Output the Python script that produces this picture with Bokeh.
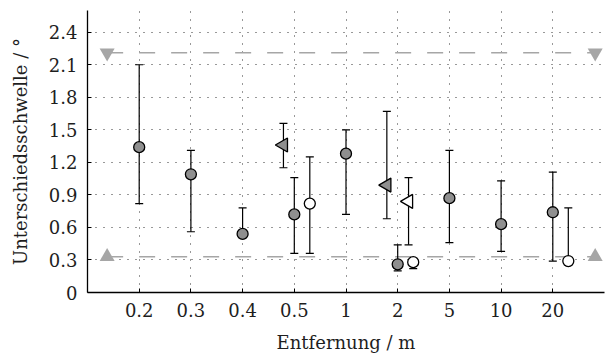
import math
from bokeh.plotting import figure
from bokeh.models import Range1d, FixedTicker, ColumnDataSource
from bokeh.embed import file_html
from bokeh.resources import INLINE

# ---- data ----
distances = ["0.2", "0.3", "0.4", "0.5", "1", "2", "5", "10", "20"]
y_ticks = [0, 0.3, 0.6, 0.9, 1.2, 1.5, 1.8, 2.1, 2.4]

# series A: grey circles (at category position)
a_cat = ["0.2", "0.3", "0.4", "0.5", "1", "2", "5", "10", "20"]
a_val = [1.34, 1.09, 0.54, 0.72, 1.28, 0.26, 0.87, 0.63, 0.74]
a_lo = [0.82, 0.56, 0.51, 0.36, 0.72, 0.20, 0.46, 0.38, 0.29]
a_hi = [2.10, 1.31, 0.78, 1.06, 1.50, 0.44, 1.31, 1.03, 1.11]

# series B: white circles (right of category)
b_cat = ["0.5", "2", "20"]
b_val = [0.82, 0.28, 0.29]
b_lo = [0.36, 0.22, 0.26]
b_hi = [1.25, 0.30, 0.78]

# series C: grey left triangles (left of category)
c_cat = ["0.5", "2"]
c_val = [1.36, 0.99]
c_lo = [1.15, 0.68]
c_hi = [1.56, 1.67]

# series D: white left triangles (right of category)
d_cat = ["2"]
d_val = [0.84]
d_lo = [0.44]
d_hi = [1.06]

# reference limits (dashed lines)
ref_upper = 2.21
ref_lower = 0.33

# ---- layout constants ----
OFF_B = 0.30
OFF_C = -0.21
OFF_D = 0.21
REF_X0 = -0.62
REF_X1 = 8.82
FONT = "DejaVu Serif"
GREY = "#8f8f8f"
REFGREY = "#a6a6a6"

idx = {c: i for i, c in enumerate(distances)}

p = figure(width=613, height=356, output_backend="svg", toolbar_location=None,
           x_range=Range1d(-1, 9), y_range=Range1d(0, 2.6),
           min_border_left=87, min_border_right=9, min_border_top=10, min_border_bottom=64)
p.outline_line_color = None
p.background_fill_color = "white"
p.border_fill_color = "white"

# axes
p.xaxis.ticker = FixedTicker(ticks=list(range(len(distances))))
p.xaxis.major_label_overrides = {i: c for i, c in enumerate(distances)}
p.yaxis.ticker = FixedTicker(ticks=y_ticks)
p.yaxis.major_label_overrides = {0: "0"}
for ax in (p.xaxis, p.yaxis):
    ax.axis_line_color = "black"
    ax.axis_line_width = 1.3
    ax.major_tick_in = 4
    ax.major_tick_out = 0
    ax.major_tick_line_color = "black"
    ax.minor_tick_line_color = None
    ax.major_label_text_font = FONT
    ax.major_label_text_font_size = "18px"
    ax.major_label_text_color = "#1e1e1e"
    ax.axis_label_text_font = FONT
    ax.axis_label_text_font_size = "18px"
    ax.axis_label_text_font_style = "normal"
    ax.axis_label_text_color = "#1e1e1e"
p.xaxis.axis_label = "Entfernung / m"
p.yaxis.axis_label = "Unterschiedsschwelle / °"
p.xaxis.major_label_standoff = 10
p.xaxis.axis_label_standoff = 12
p.yaxis.major_label_standoff = 10
p.yaxis.axis_label_standoff = 15

# grid
p.xgrid.ticker = FixedTicker(ticks=list(range(len(distances))))
p.ygrid.ticker = FixedTicker(ticks=y_ticks)
for g in (p.xgrid, p.ygrid):
    g.grid_line_color = "#333333"
    g.grid_line_dash = "1 7"
    g.grid_line_width = 1

# reference dashed lines and triangles
for yv, mk in ((ref_upper, "inverted_triangle"), (ref_lower, "triangle")):
    p.line([REF_X0, REF_X1], [yv, yv], line_color=REFGREY, line_width=1.6, line_dash="16 16")
    p.scatter([REF_X0, REF_X1], [yv, yv], marker=mk, size=15, fill_color=REFGREY, line_color=None)


def series(cats, val, lo, hi, off, marker, fill, angle=0.0, size=11):
    xs = [idx[c] + off for c in cats]
    src = ColumnDataSource(dict(x=xs, y=val, lo=lo, hi=hi))
    p.segment(x0="x", y0="lo", x1="x", y1="hi", source=src, line_color="black", line_width=1.2)
    p.scatter(x="x", y="lo", source=src, marker="dash", size=8, line_color="black", line_width=1.2)
    p.scatter(x="x", y="hi", source=src, marker="dash", size=8, line_color="black", line_width=1.2)
    return src, marker, fill, angle, size


draw = [
    series(a_cat, a_val, a_lo, a_hi, 0.0, "circle", GREY),
    series(b_cat, b_val, b_lo, b_hi, OFF_B, "circle", "white"),
    series(c_cat, c_val, c_lo, c_hi, OFF_C, "triangle", GREY, math.pi / 2, 14),
    series(d_cat, d_val, d_lo, d_hi, OFF_D, "triangle", "white", math.pi / 2, 14),
]
for src, marker, fill, angle, size in draw:
    p.scatter(x="x", y="y", source=src, marker=marker, size=size, angle=angle,
              fill_color=fill, line_color="black", line_width=1.3)

open("out.html", "w").write(file_html(p, INLINE))
